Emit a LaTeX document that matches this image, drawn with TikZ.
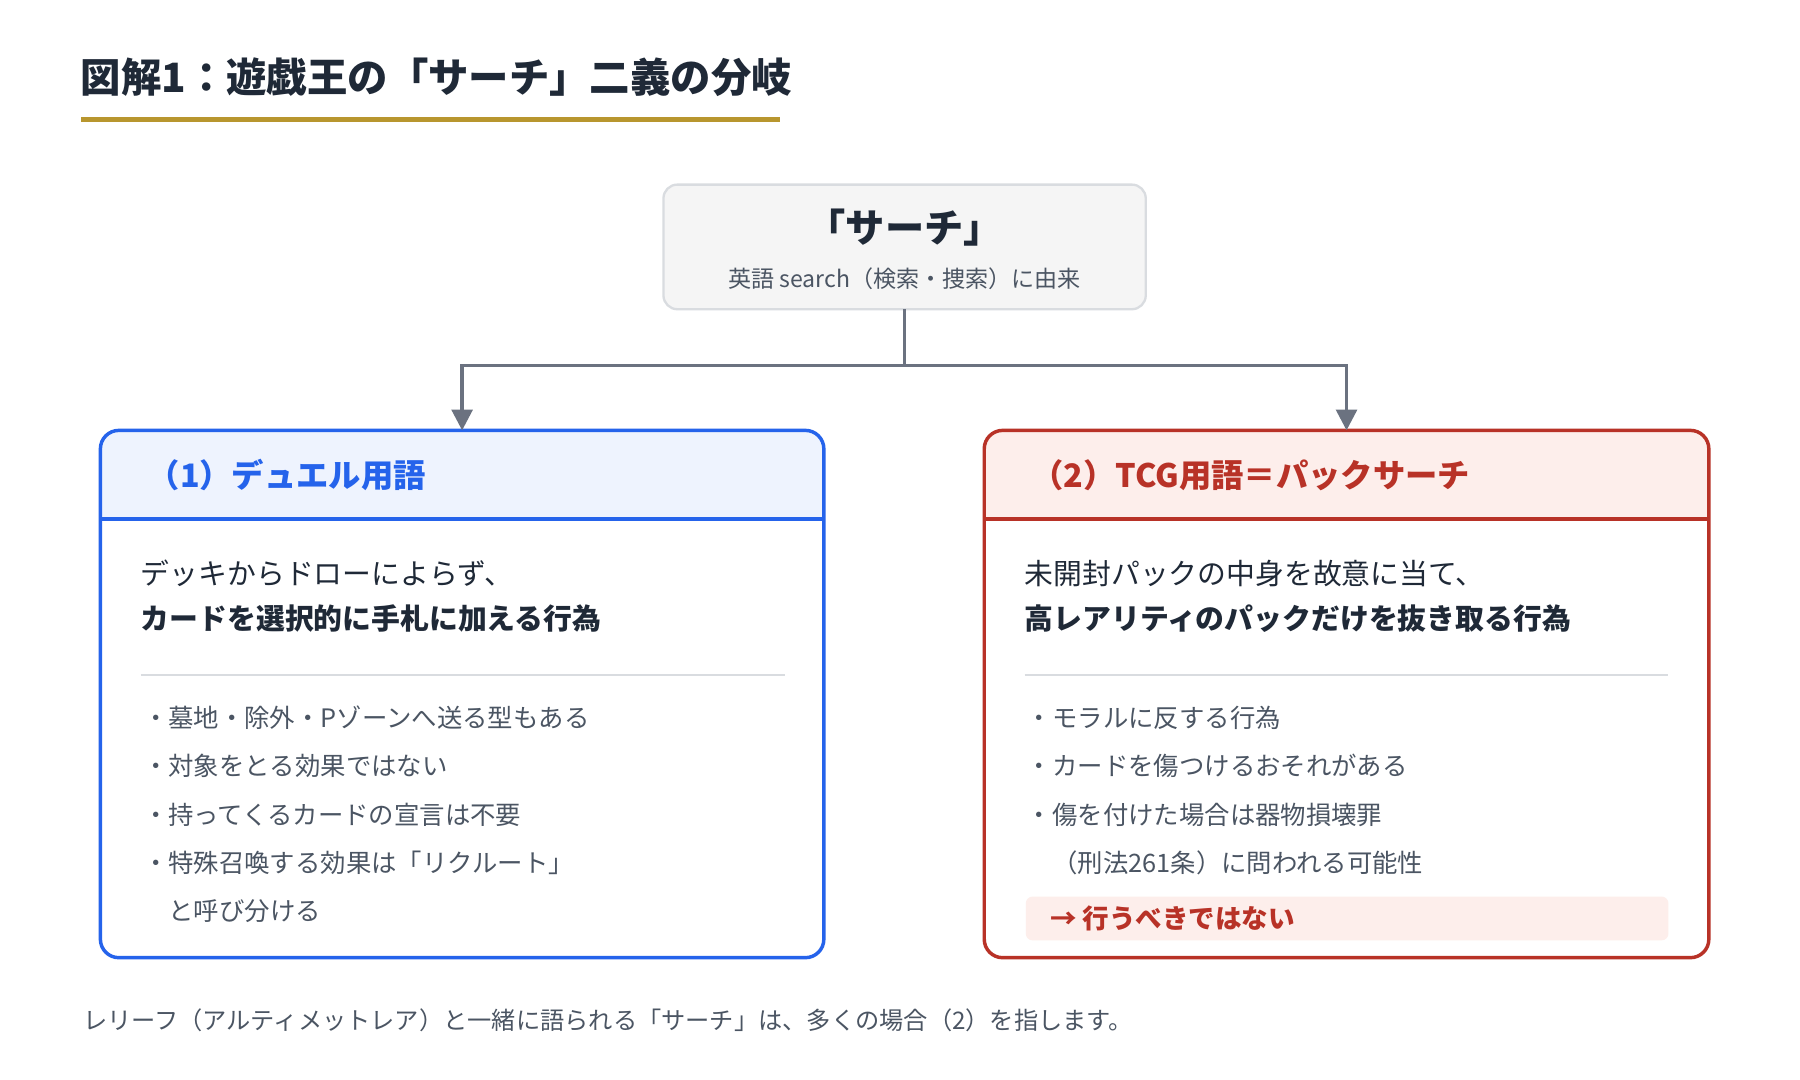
\documentclass[tikz,border=0pt]{standalone}
\usepackage{fontspec}
\usetikzlibrary{arrows.meta}
\setmainfont{Noto Sans CJK JP}
\begin{document}
\begin{tikzpicture}[x=0.5pt,y=-0.5pt,
  every node/.style={inner sep=0pt,outer sep=0pt},
  conn/.style={draw=cgray,line width=1.5pt},
  arr/.style={conn,-{Triangle[length=9pt,width=9pt]}},
  bul/.style={anchor=west,text=tgray,font=\fontsize{11}{13}\selectfont},
  body/.style={anchor=west,text=tdark,font=\fontsize{12.5}{15}\selectfont}]
\definecolor{cgray}{HTML}{6B7280}
\definecolor{tgray}{HTML}{4B5563}
\definecolor{tdark}{HTML}{1F2937}
\definecolor{blu}{HTML}{2563EB}
\definecolor{blubg}{HTML}{EEF3FE}
\definecolor{rd}{HTML}{B83227}
\definecolor{rdbg}{HTML}{FDEEEB}
\definecolor{gold}{HTML}{B8962E}
\definecolor{divl}{HTML}{D9DCE0}
\useasboundingbox (0,0) rectangle (1560,936);
\fill[white] (0,0) rectangle (1560,936);
% title
\node[anchor=west,font=\fontsize{17.5}{20}\bfseries\selectfont,text=tdark] (title) at (70,67) {図解1：遊戯王の「サーチ」二義の分岐};
\fill[gold] (70,101) rectangle (676,106);
% top box
\node[draw=divl,line width=1pt,fill=gray!8,rounded corners=6pt,minimum width=209pt,minimum height=54pt] (top) at (784,214) {};
\node[font=\fontsize{17}{20}\bfseries\selectfont,text=tdark] (toptitle) at (784,197) {「サーチ」};
\node[font=\fontsize{10}{12}\selectfont,text=tgray] (topsub) at (784,242) {英語 search（検索・捜索）に由来};
% left box
\node[minimum width=313.5pt,minimum height=228.5pt] (L) at (400.5,601.5) {};
\begin{scope}
\clip[rounded corners=8pt] (87,373) rectangle (714,830);
\fill[blubg] (87,373) rectangle (714,450);
\end{scope}
\draw[blu,line width=1.5pt] (87,450) -- (714,450);
\draw[blu,line width=1.5pt,rounded corners=8pt] (87,373) rectangle (714,830);
\node[anchor=west,font=\fontsize{14}{16}\bfseries\selectfont,text=blu] (Lh) at (128,412) {（1）デュエル用語};
\node[body] (L1) at (122,497) {デッキからドローによらず、};
\node[body,font=\fontsize{12.5}{15}\bfseries\selectfont] (L2) at (122,536) {カードを選択的に手札に加える行為};
\draw[divl,line width=1pt] (122,585) -- (680,585);
\node[bul] (Lb1) at (124,622) {・墓地・除外・Pゾーンへ送る型もある};
\node[bul] (Lb2) at (124,664) {・対象をとる効果ではない};
\node[bul] (Lb3) at (124,706) {・持ってくるカードの宣言は不要};
\node[bul] (Lb4) at (124,748) {・特殊召喚する効果は「リクルート」};
\node[bul] (Lb5) at (146,790) {と呼び分ける};
% right box
\node[minimum width=314pt,minimum height=228.5pt] (R) at (1167,601.5) {};
\begin{scope}
\clip[rounded corners=8pt] (853,373) rectangle (1481,830);
\fill[rdbg] (853,373) rectangle (1481,450);
\end{scope}
\draw[rd,line width=1.5pt] (853,450) -- (1481,450);
\draw[rd,line width=1.5pt,rounded corners=8pt] (853,373) rectangle (1481,830);
\node[anchor=west,font=\fontsize{14}{16}\bfseries\selectfont,text=rd] (Rh) at (894,412) {（2）TCG用語＝パックサーチ};
\node[body] (R1) at (888,497) {未開封パックの中身を故意に当て、};
\node[body,font=\fontsize{12.5}{15}\bfseries\selectfont] (R2) at (888,536) {高レアリティのパックだけを抜き取る行為};
\draw[divl,line width=1pt] (888,585) -- (1446,585);
\node[bul] (Rb1) at (890,622) {・モラルに反する行為};
\node[bul] (Rb2) at (890,664) {・カードを傷つけるおそれがある};
\node[bul] (Rb3) at (890,706) {・傷を付けた場合は器物損壊罪};
\node[bul] (Rb4) at (912,748) {（刑法261条）に問われる可能性};
\fill[rdbg,rounded corners=3pt] (889,777) rectangle (1446,815);
\node[anchor=west,font=\fontsize{11.5}{13}\bfseries\selectfont,text=rd] (Rw) at (910,796) {→ 行うべきではない};
% connectors
\coordinate (J) at (784,317);
\draw[conn] (top.south) -- (J);
\draw[arr] (J) -| (L.north);
\draw[arr] (J) -| (R.north);
% footer
\node[anchor=west,font=\fontsize{10.5}{12}\selectfont,text=tgray] (foot) at (72,884) {レリーフ（アルティメットレア）と一緒に語られる「サーチ」は、多くの場合（2）を指します。};
\end{tikzpicture}
\end{document}
